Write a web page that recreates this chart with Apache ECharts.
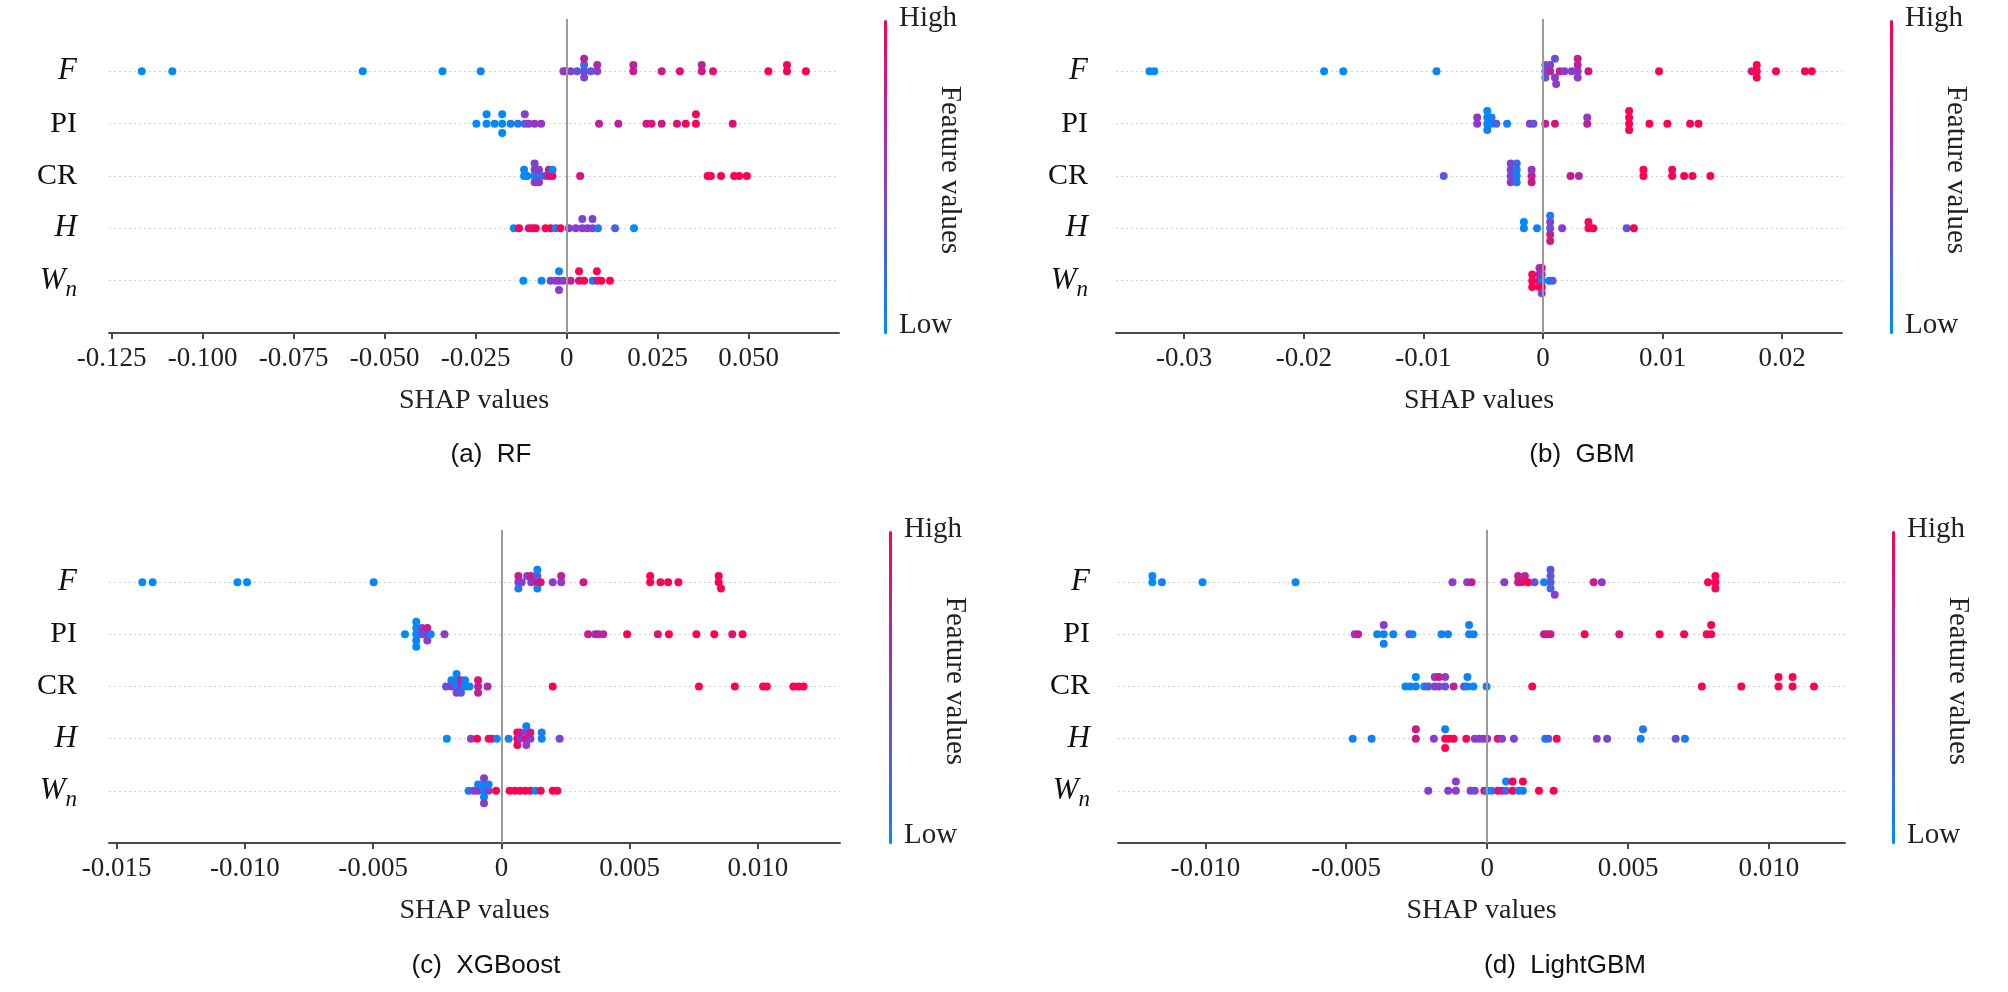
<!DOCTYPE html>
<html>
<head>
<meta charset="UTF-8">
<title>SHAP summary plots</title>
<style>
    html, body { margin: 0; padding: 0; background: #fff; }
    #wrap { width: 2008px; height: 992px; }
</style>
</head>
<body>
<div id="wrap"></div>
<script src="https://cdn.jsdelivr.net/npm/echarts@6/dist/echarts.min.js"></script>
<script>
// rows from bottom (0) to top (4)
const FEATURES = ['Wn', 'H', 'CR', 'PI', 'F'];

// [SHAP value, normalised feature value 0..1]
// ---- (a) RF
const RF_F = [[-0.1167,0],[-0.1083,0],[-0.0560,0],[-0.0341,0],[-0.0236,0.05],
    [-0.0009,0.5],[-0.0005,0.55],[0.0011,0.5],[0.0029,0.35],[0.0048,0.4],[0.0048,0.2],[0.0048,0.45],[0.0048,0.7],
    [0.0066,0.3],[0.0084,0.5],[0.0084,0.65],[0.0183,0.75],[0.0183,0.75],[0.0261,0.75],[0.0311,0.85],
    [0.0371,0.8],[0.0371,0.75],[0.0402,0.85],[0.0554,1],[0.0605,1],[0.0605,0.95],[0.0657,1]];
const RF_PI = [[-0.0248,0],[-0.0220,0],[-0.0220,0],[-0.0198,0],[-0.0177,0],[-0.0177,0],[-0.0177,0],
    [-0.0154,0.05],[-0.0134,0.1],[-0.0115,0.3],[-0.0115,0.5],[-0.0104,0.5],[-0.0088,0.55],[-0.0070,0.55],
    [0.0089,0.7],[0.0142,0.7],[0.0219,0.8],[0.0233,0.85],[0.0261,0.8],[0.0303,0.85],[0.0327,0.95],
    [0.0355,1],[0.0355,0.95],[0.0456,0.9]];
const RF_CR = [[-0.0117,0],[-0.0117,0.05],[-0.0108,0],[-0.0088,0.1],[-0.0088,0.5],[-0.0088,0.5],[-0.0088,0.45],
    [-0.0076,0.1],[-0.0076,0.5],[-0.0076,0.5],[-0.0061,0.3],[-0.0049,0.85],[-0.0049,0.75],[-0.0039,0.95],[-0.0039,0.05],
    [0.0037,0.85],[0.0387,1],[0.0396,1],[0.0424,1],[0.0460,1],[0.0474,1],[0.0495,1]];
const RF_H = [[-0.0145,0],[-0.0131,1],[-0.0104,0.85],[-0.0095,0.9],[-0.0085,1],[-0.0058,1],[-0.0044,1],[-0.0030,0.05],
    [-0.0017,1],[0.0006,0.5],[0.0025,0.5],[0.0043,0.5],[0.0043,0.45],[0.0057,0.5],[0.0071,0.5],[0.0071,0.45],
    [0.0086,0.1],[0.0133,0.25],[0.0185,0]];
const RF_WN = [[-0.0119,0],[-0.0069,0],[-0.0044,0.5],[-0.0030,0.5],[-0.0021,0.5],[-0.0021,0.05],[-0.0021,0.5],
    [-0.0009,0.5],[0.0011,0.75],[0.0034,0.85],[0.0034,1],[0.0048,1],[0.0071,0.05],[0.0083,0.8],[0.0083,1],
    [0.0095,1],[0.0119,1]];

// ---- (b) GBM
const GBM_F = [[-0.0329,0],[-0.0325,0],[-0.0183,0],[-0.0167,0],[-0.0089,0.05],
    [0.0002,0.35],[0.0002,0.4],[0.0002,0.35],[0.0006,0.75],[0.0006,0.5],[0.0010,0.5],[0.0010,0.35],[0.0011,0.55],
    [0.0014,0.75],[0.0018,0.5],[0.0024,0.5],[0.0029,0.5],[0.0029,0.7],[0.0029,0.55],[0.0029,0.75],[0.0038,0.85],
    [0.0097,1],[0.01745,0.85],[0.01787,1],[0.01787,1],[0.01787,1],[0.01948,1],[0.0219,1],[0.02247,1]];
const GBM_PI = [[-0.0055,0.5],[-0.0055,0.55],[-0.00466,0],[-0.00466,0],[-0.00466,0.05],[-0.00466,0],
    [-0.0043,0],[-0.0043,0.1],[-0.0039,0.3],[-0.0030,0.05],[-0.0011,0.5],[-0.0008,0.35],[0.0002,0.75],[0.0010,0.8],
    [0.0037,0.75],[0.0037,0.55],[0.0072,1],[0.0072,1],[0.0072,1],[0.0072,0.95],[0.0089,1],[0.0104,1],
    [0.0123,0.95],[0.0130,1]];
const GBM_CR = [[-0.0083,0.3],[-0.0027,0.45],[-0.0027,0.4],[-0.0027,0.5],[-0.0027,0.45],
    [-0.0022,0.1],[-0.0022,0.05],[-0.0022,0.1],[-0.0022,0.2],[-0.00095,0.75],[-0.00095,0.55],[-0.00095,0.8],
    [0.0023,0.8],[0.0030,0.6],[0.0084,1],[0.0084,1],[0.0108,1],[0.0108,0.95],[0.0118,1],[0.0125,0.95],[0.0140,1]];
const GBM_H = [[-0.0016,0.05],[-0.0016,0],[-0.0005,0.05],[0.0006,0.35],[0.0006,0.5],[0.0006,0.75],[0.0006,0.1],
    [0.0006,0.8],[0.0016,0.5],[0.0038,1],[0.0038,0.95],[0.0042,1],[0.0070,0.35],[0.0076,1]];
const GBM_WN = [[-0.0009,1],[-0.0009,0.95],[-0.0009,1],[-0.0003,1],[-0.0003,0.75],[-0.0003,1],[-0.0003,0.5],
    [-0.0001,0.05],[-0.0001,0.5],[-0.0001,1],[-0.0001,0.75],[-0.0001,0.5],[0.0005,0.05],[0.0008,0.3]];

// ---- (c) XGBoost
const XGB_F = [[-0.0140,0],[-0.0136,0],[-0.01029,0],[-0.00992,0],[-0.00498,0.05],
    [0.00066,0.5],[0.00066,0.75],[0.00066,0.1],[0.00079,0.5],[0.0010,0.5],[0.00116,0.5],[0.00116,0.75],
    [0.0014,0.85],[0.0014,0.3],[0.0014,0.05],[0.0014,0.05],[0.00153,0.85],[0.0020,0.5],[0.00233,0.5],[0.00233,0.75],
    [0.0032,0.8],[0.0058,1],[0.0058,1],[0.0062,0.95],[0.0065,1],[0.0069,0.95],[0.00847,1],[0.00847,1],[0.00856,1]];
const XGB_PI = [[-0.00376,0],[-0.00332,0],[-0.00332,0],[-0.00332,0.05],[-0.00332,0],[-0.00332,0],
    [-0.0031,0.35],[-0.0031,0.5],[-0.00289,0.5],[-0.00289,0.75],[-0.00289,0.5],[-0.00276,0.05],[-0.00222,0.5],
    [0.00338,0.75],[0.00365,0.55],[0.00378,0.75],[0.00397,0.65],[0.0049,1],[0.0061,0.85],[0.00653,1],
    [0.0076,1],[0.0083,1],[0.0090,0.85],[0.0094,1]];
const XGB_CR = [[-0.00216,0.35],[-0.00195,0.5],[-0.00195,0.05],[-0.00175,0],[-0.00175,0.05],[-0.00175,0.5],
    [-0.00175,0],[-0.00158,0.5],[-0.00158,0.75],[-0.00158,0.3],[-0.00142,0],[-0.00142,0.05],[-0.00124,0.05],
    [-0.00091,0.75],[-0.00091,0.8],[-0.00091,0.7],[-0.00054,0.65],
    [0.0020,1],[0.0077,1],[0.0091,1],[0.0102,1],[0.01035,1],[0.01138,1],[0.01158,1],[0.01178,1]];
const XGB_H = [[-0.00213,0],[-0.00119,0.5],[-0.00095,1],[-0.0005,0.85],[-0.00037,1],[-0.00018,0.05],
    [0.00028,0.05],[0.00062,1],[0.00062,1],[0.00062,1],[0.00073,0.5],[0.00073,0.75],[0.00097,0.9],[0.00097,0.5],
    [0.00097,0.5],[0.00097,0.05],[0.00113,0.5],[0.00113,0.8],[0.00157,0.05],[0.00157,0.1],[0.00227,0.45]];
const XGB_WN = [[-0.00128,0.05],[-0.00108,0.5],[-0.00091,0.5],[-0.00091,0.05],[-0.00068,0.05],[-0.00068,0.05],
    [-0.00068,0],[-0.00068,0.5],[-0.00068,0.5],[-0.0005,0.5],[-0.0005,0.05],[-0.00021,1],
    [0.00032,1],[0.00053,1],[0.00073,1],[0.00093,1],[0.00113,1],[0.00133,0.05],[0.00153,1],[0.0020,1],[0.00218,1]];

// ---- (d) LightGBM
const LGBM_F = [[-0.01188,0],[-0.01188,0],[-0.01154,0.05],[-0.0101,0],[-0.0068,0.05],
    [-0.00123,0.5],[-0.00071,0.5],[-0.00055,0.75],[0.00061,0.5],[0.0011,0.75],[0.0011,0.75],[0.00123,0.85],
    [0.00134,0.75],[0.00145,1],[0.00168,0.35],[0.00202,0.05],[0.00225,0.3],[0.00225,0.35],[0.00225,0.25],
    [0.00225,0.3],[0.0024,0.5],[0.00378,0.75],[0.00407,0.5],[0.00784,1],[0.0081,1],[0.0081,1],[0.0081,0.95]];
const LGBM_PI = [[-0.0047,0.5],[-0.00458,0.75],[-0.0039,0.05],[-0.00367,0.05],[-0.00367,0.5],[-0.00367,0.05],
    [-0.00333,0.05],[-0.00276,0.35],[-0.00265,0.05],[-0.00162,0.05],[-0.00139,0.05],[-0.00064,0.05],
    [-0.00064,0.05],[-0.00048,0.05],[0.00202,0.75],[0.00213,0.8],[0.00225,0.75],[0.00346,1],[0.00469,0.85],
    [0.00612,1],[0.00699,1],[0.00779,1],[0.00795,1],[0.00795,1]];
const LGBM_CR = [[-0.0029,0.05],[-0.00273,0.05],[-0.00253,0.05],[-0.00253,0],[-0.00223,0.05],[-0.00209,0.3],
    [-0.00186,0.5],[-0.00186,0.55],[-0.00171,0.5],[-0.00171,0.8],[-0.00149,0.35],[-0.00149,0.5],[-0.00119,0.75],
    [-0.00082,0.35],[-0.0007,0.05],[-0.0007,0.05],[-0.00049,0.05],[-0.00002,0.05],
    [0.0016,1],[0.00762,1],[0.00902,1],[0.01034,1],[0.01034,1],[0.01084,1],[0.01084,1],[0.0116,1]];
const LGBM_H = [[-0.00477,0.05],[-0.0041,0.05],[-0.00253,0.8],[-0.00253,0.8],[-0.00189,0.5],[-0.00149,1],
    [-0.00149,0.05],[-0.00149,1],[-0.00134,1],[-0.00119,1],[-0.00074,1],[-0.00044,0.5],[-0.00029,0.5],
    [-0.00014,0.5],[0,0.55],[0.00038,0.9],[0.00053,0.5],[0.00095,0.5],[0.00206,0.05],[0.00217,0.25],[0.00247,1],
    [0.00389,0.5],[0.00426,0.45],[0.00545,0.05],[0.00553,0.1],[0.00669,0.35],[0.00702,0.1]];
const LGBM_WN = [[-0.00209,0.5],[-0.00138,0.5],[-0.00111,0.5],[-0.00111,0.5],[-0.00059,0.5],[-0.00044,0.45],
    [-0.0001,1],[0,0.05],[0.00016,0.05],[0.00038,0.85],[0.00053,0.8],[0.00067,0.3],[0.00067,0.05],[0.0009,1],
    [0.0009,1],[0.00112,0.05],[0.00127,0.05],[0.00127,1],[0.00184,1],[0.00236,1]];

// x-axis ticks
const RF_TICKS = [-0.125, -0.1, -0.075, -0.05, -0.025, 0, 0.025, 0.05];
const GBM_TICKS = [-0.03, -0.02, -0.01, 0, 0.01, 0.02];
const XGB_TICKS = [-0.015, -0.01, -0.005, 0, 0.005, 0.01];
const LGBM_TICKS = [-0.01, -0.005, 0, 0.005, 0.01];

const CAPTIONS = ['(a)  RF', '(b)  GBM', '(c)  XGBoost', '(d)  LightGBM'];

// layout (pixels) for each panel
const panels = [
    { rows: [RF_WN, RF_H, RF_CR, RF_PI, RF_F], ticks: RF_TICKS, dec: 3, xMin: -0.1257, xMax: 0.0748,
      grid: { left: 109, top: 19, width: 730, height: 314 }, labelGap: 32, cbX: 884, capX: 491, capY: 455 },
    { rows: [GBM_WN, GBM_H, GBM_CR, GBM_PI, GBM_F], ticks: GBM_TICKS, dec: 2, xMin: -0.0357, xMax: 0.025,
      grid: { left: 1116, top: 19, width: 726, height: 314 }, labelGap: 28, cbX: 1890, capX: 1582, capY: 455 },
    { rows: [XGB_WN, XGB_H, XGB_CR, XGB_PI, XGB_F], ticks: XGB_TICKS, dec: 3, xMin: -0.0153, xMax: 0.0132,
      grid: { left: 109, top: 530, width: 731, height: 313 }, labelGap: 32, cbX: 889, capX: 486, capY: 966 },
    { rows: [LGBM_WN, LGBM_H, LGBM_CR, LGBM_PI, LGBM_F], ticks: LGBM_TICKS, dec: 3, xMin: -0.0131, xMax: 0.0127,
      grid: { left: 1118, top: 530, width: 727, height: 313 }, labelGap: 28, cbX: 1892, capX: 1565, capY: 966 }
];

const SERIF = '"Liberation Serif", "Times New Roman", serif';
const SANS = '"Liberation Sans", Arial, sans-serif';
const BLUE = '#008bfb', PURPLE = '#8a3ccf', PINK = '#ff0052';

// shap-style beeswarm: bin each row into 100 bins, stack points in a bin
function beeswarm(points, row) {
    const xs = points.map(p => p[0]);
    const lo = Math.min(...xs), hi = Math.max(...xs);
    const items = points.map((p, i) => ({
        x: p[0], c: p[1], i: i,
        q: Math.round(100 * (p[0] - lo) / (hi - lo + 1e-8))
    }));
    items.sort((a, b) => a.q - b.q || a.i - b.i);
    let layer = 0, last = -1;
    items.forEach(it => {
        if (it.q !== last) layer = 0;
        it.ys = Math.ceil(layer / 2) * ((layer % 2) * 2 - 1);
        layer++;
        last = it.q;
    });
    const maxYs = Math.max(...items.map(it => it.ys));
    const k = 0.9 * (0.4 / (maxYs + 1));
    return items.map(it => [it.x, row + it.ys * k, it.c]);
}

function featureLabel(v) {
    switch (FEATURES[v]) {
        case 'F': return '{it|F}';
        case 'PI': return '{up|PI}';
        case 'CR': return '{up|CR}';
        case 'H': return '{it|H}';
        case 'Wn': return '{it|W}{sub|n}';
        default: return '';
    }
}

let grids = [], xAxes = [], yAxes = [], series = [], visualMaps = [], graphics = [];

panels.forEach((p, idx) => {
    grids.push(Object.assign({ containLabel: false }, p.grid));

    xAxes.push({
        gridIndex: idx,
        type: 'value',
        min: p.xMin,
        max: p.xMax,
        name: 'SHAP values',
        nameLocation: 'middle',
        nameGap: 54,
        nameTextStyle: { fontFamily: SERIF, fontSize: 28, color: '#222' },
        axisLine: { show: true, onZero: false, lineStyle: { color: '#4a4a4a', width: 2 } },
        axisTick: { show: true, length: 6, customValues: p.ticks, lineStyle: { color: '#4a4a4a', width: 2 } },
        axisLabel: {
            customValues: p.ticks,
            margin: 12,
            fontFamily: SERIF,
            fontSize: 27,
            color: '#222',
            formatter: v => Math.abs(v) < 1e-12 ? '0' : Number(v).toFixed(p.dec)
        },
        splitLine: { show: false }
    });

    yAxes.push({
        gridIndex: idx,
        type: 'value',
        min: -1,
        max: 5,
        interval: 1,
        axisLine: { show: false },
        axisTick: { show: false },
        splitLine: {
            show: true,
            showMinLine: false,
            showMaxLine: false,
            lineStyle: { color: '#d2d2d2', type: [2, 3], width: 1.2 }
        },
        axisLabel: {
            margin: p.labelGap,
            formatter: featureLabel,
            rich: {
                it: { fontFamily: SERIF, fontStyle: 'italic', fontSize: 31, color: '#111' },
                up: { fontFamily: SERIF, fontSize: 30, color: '#111' },
                sub: { fontFamily: SERIF, fontStyle: 'italic', fontSize: 23, color: '#111', padding: [18, 0, 0, 0] }
            }
        }
    });

    let data = [];
    p.rows.forEach((pts, r) => { data = data.concat(beeswarm(pts, r)); });

    series.push({
        type: 'scatter',
        xAxisIndex: idx,
        yAxisIndex: idx,
        symbol: 'circle',
        symbolSize: 8,
        data: data,
        itemStyle: { opacity: 1 },
        markLine: {
            silent: true,
            symbol: ['none', 'none'],
            label: { show: false },
            lineStyle: { color: '#9a9a9a', width: 2, type: 'solid' },
            data: [{ xAxis: 0 }],
            animation: false
        }
    });

    const cbTop = p.grid.top + 1;
    const cbH = p.grid.height;
    visualMaps.push({
        type: 'continuous',
        seriesIndex: idx,
        dimension: 2,
        min: 0,
        max: 1,
        calculable: false,
        hoverLink: false,
        orient: 'vertical',
        left: p.cbX,
        top: cbTop,
        itemWidth: 3,
        itemHeight: cbH,
        padding: 0,
        inRange: { color: [BLUE, PURPLE, PINK] }
    });

    const tx = p.cbX + 15;
    graphics.push(
        { type: 'text', x: tx, y: cbTop - 2, style: { text: 'High', font: '29px ' + SERIF, fill: '#222', align: 'left', verticalAlign: 'middle' } },
        { type: 'text', x: tx, y: cbTop + cbH - 9, style: { text: 'Low', font: '29px ' + SERIF, fill: '#222', align: 'left', verticalAlign: 'middle' } },
        { type: 'text', x: p.cbX + 66, y: cbTop + 150, rotation: -Math.PI / 2,
          style: { text: 'Feature values', font: '29px ' + SERIF, fill: '#222', align: 'center', verticalAlign: 'middle' } },
        { type: 'text', x: p.capX, y: p.capY, style: { text: CAPTIONS[idx], font: '26px ' + SANS, fill: '#111', align: 'center', verticalAlign: 'middle' } }
    );
});

const chart = echarts.init(document.getElementById('wrap'), null, { renderer: 'canvas' });
chart.setOption({
    backgroundColor: '#fff',
    animation: false,
    grid: grids,
    xAxis: xAxes,
    yAxis: yAxes,
    visualMap: visualMaps,
    graphic: graphics,
    series: series
});
</script>
</body>
</html>
